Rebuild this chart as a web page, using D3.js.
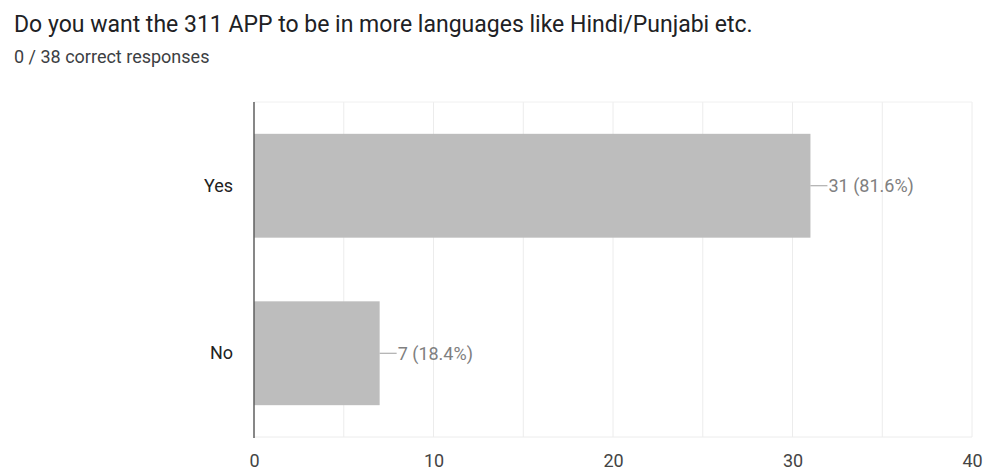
<!DOCTYPE html>
<html><head><meta charset="utf-8">
<script src="https://cdn.jsdelivr.net/npm/d3@7"></script>
<style>body{margin:0;background:#fff;} svg{display:block;font-family:Roboto,Arial,sans-serif;}</style>
</head><body>
<svg id="c" width="992" height="471"></svg>
<script>
const title = "Do you want the 311 APP to be in more languages like Hindi/Punjabi etc.";
const subtitle = "0 / 38 correct responses";
const categories = ["Yes", "No"];
const values = [31, 7];
const percents = ["81.6%", "18.4%"];
const xTicks = [0, 10, 20, 30, 40];
const xGrid = [5, 10, 15, 20, 25, 30, 35, 40];

const svg = d3.select("#c");
const m = {left: 254, right: 972, top: 102, bottom: 437};
const x = d3.scaleLinear().domain([0, 40]).range([m.left, m.right]);
const y = d3.scaleBand().domain(categories).range([m.top, m.bottom]).paddingInner(0.38).paddingOuter(0.19);

svg.append("text").attr("x", 14).attr("y", 32).attr("font-size", 23).attr("fill", "#202124").text(title);
svg.append("text").attr("x", 14).attr("y", 63).attr("font-size", 18).attr("fill", "#3c4043").text(subtitle);

// grid
svg.append("g").selectAll("line").data(xGrid).join("line")
  .attr("x1", d => x(d)).attr("x2", d => x(d)).attr("y1", m.top).attr("y2", m.bottom)
  .attr("stroke", "#ececec").attr("stroke-width", 1);
svg.append("line").attr("x1", m.left).attr("x2", m.right).attr("y1", m.top).attr("y2", m.top).attr("stroke", "#f0f0f0");
svg.append("line").attr("x1", m.left).attr("x2", m.right).attr("y1", m.bottom).attr("y2", m.bottom).attr("stroke", "#ececec");

// bars
svg.append("g").selectAll("rect").data(values).join("rect")
  .attr("x", x(0)).attr("y", (d, i) => y(categories[i]))
  .attr("width", d => x(d) - x(0)).attr("height", y.bandwidth())
  .attr("fill", "#bdbdbd");

// zero axis
svg.append("line").attr("x1", x(0)).attr("x2", x(0)).attr("y1", m.top).attr("y2", m.bottom + 1)
  .attr("stroke", "#5f5f5f").attr("stroke-width", 1.5);

// value labels with leader
const lab = svg.append("g").selectAll("g").data(values).join("g")
  .attr("transform", (d, i) => `translate(${x(d)},${y(categories[i]) + y.bandwidth() / 2})`);
lab.append("line").attr("x1", 0).attr("x2", 17).attr("y1", 0).attr("y2", 0).attr("stroke", "#9e9e9e");
lab.append("text").attr("x", 18).attr("dy", "0.35em").attr("font-size", 18).attr("fill", "#808080")
  .text((d, i) => `${d} (${percents[i]})`);

// category labels
const yAxis = d3.axisLeft(y).tickSize(0).tickPadding(21);
const ya = svg.append("g").attr("transform", `translate(${m.left},0)`).call(yAxis);
ya.select(".domain").remove();
ya.selectAll("text").attr("font-size", 18).attr("fill", "#222").attr("font-family", "Roboto,Arial,sans-serif");

// x axis
const xAxis = d3.axisBottom(x).tickValues(xTicks).tickSize(0).tickPadding(17);
const xa = svg.append("g").attr("transform", `translate(0,${m.bottom})`).call(xAxis);
xa.select(".domain").remove();
xa.selectAll("text").attr("font-size", 18).attr("fill", "#444").attr("font-family", "Roboto,Arial,sans-serif");
</script>
</body></html>
